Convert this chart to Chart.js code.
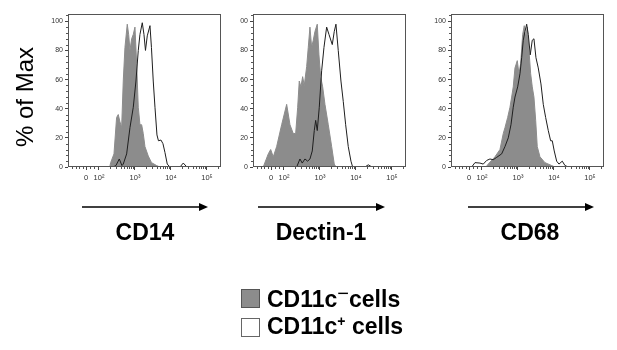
<!DOCTYPE html>
<html><head><meta charset="utf-8">
<script src="https://cdn.jsdelivr.net/npm/chart.js@4.4.1/dist/chart.umd.min.js"></script>
<style>
html,body{margin:0;padding:0;background:#fff;}
body{width:617px;height:350px;overflow:hidden;position:relative;font-family:"Liberation Sans",Arial,sans-serif;color:#000;}
canvas{position:absolute;top:0;}
.mk{position:absolute;width:200px;text-align:center;font-weight:bold;font-size:23px;line-height:23px;}
.ylab{position:absolute;left:-25px;top:85px;width:100px;height:24px;text-align:center;font-size:24px;line-height:24px;transform:rotate(-90deg);white-space:nowrap;}
.leg{position:absolute;left:241px;width:19px;height:19px;box-sizing:border-box;}
.legt{position:absolute;left:267px;font-weight:bold;font-size:23px;line-height:23px;white-space:nowrap;}
.sup{font-size:14px;position:relative;top:-8px;}
.supm{font-size:20px;position:relative;top:-7px;font-weight:normal;}
</style></head><body>
<canvas id="c1" width="200" height="189" style="left:28px"></canvas>
<canvas id="c2" width="200" height="189" style="left:213px"></canvas>
<canvas id="c3" width="200" height="189" style="left:411px"></canvas>
<div class="ylab">% of Max</div>
<svg width="617" height="350" style="position:absolute;left:0;top:0">
  <line x1="82" y1="207" x2="200" y2="207" stroke="#000" stroke-width="1.5"/>
  <polygon points="208,207 199,203 199,211" fill="#000"/>
  <line x1="258" y1="207" x2="377" y2="207" stroke="#000" stroke-width="1.5"/>
  <polygon points="385,207 376,203 376,211" fill="#000"/>
  <line x1="468" y1="207" x2="586" y2="207" stroke="#000" stroke-width="1.5"/>
  <polygon points="594,207 585,203 585,211" fill="#000"/>
</svg>
<div class="mk" id="m1" style="left:45px;top:221px"></div>
<div class="mk" id="m2" style="left:221px;top:221px"></div>
<div class="mk" id="m3" style="left:430px;top:221px"></div>
<div class="leg" style="top:289px;background:#8c8c8c;border:1px solid #555"></div>
<div class="leg" style="top:318px;background:#fff;border:1px solid #666"></div>
<div class="legt" style="top:288px">CD11c<span class="supm">−</span>cells</div>
<div class="legt" style="top:315px">CD11c<span class="sup">+</span> cells</div>
<script>
// marker names
const panelNames = ['CD14', 'Dectin-1', 'CD68'];
// x axis is in display (decade) units: 10^2 -> 2, 10^3 -> 3 ...
const xMin = 1.14, xMax = 5.39;
const yMin = 0, yMax = 105;
const xTickValues = [1.64, 2, 3, 4, 5];
const xTickLabels = ['0', '10²', '10³', '10⁴', '10⁵'];
const yTickValues = [0, 20, 40, 60, 80, 100];
const yTickLabels = ['0', '20', '40', '60', '80', '100'];
const yTickLabelsPanel2 = ['0', '20', '40', '60', '80', '00'];
const xMinorValues = [1.25, 1.35, 1.45, 1.55, 1.75, 1.85,
  2.301, 2.477, 2.602, 2.699, 2.778, 2.845, 2.903, 2.954,
  3.301, 3.477, 3.602, 3.699, 3.778, 3.845, 3.903, 3.954,
  4.301, 4.477, 4.602, 4.699, 4.778, 4.845, 4.903, 4.954, 5.301];
const yMinorValues = [4, 8, 12, 16, 24, 28, 32, 36, 44, 48, 52, 56, 64, 68, 72, 76, 84, 88, 92, 96, 104];

// CD14 panel
const cd14NegX = [1.14, 2.30, 2.325, 2.417, 2.49, 2.536, 2.583, 2.63, 2.675, 2.722, 2.786, 2.825, 2.861, 2.908, 2.953, 3.0, 3.047, 3.092, 3.139, 3.186, 3.23, 3.278, 3.37, 3.46, 3.6, 3.69, 5.39];
const cd14NegY = [0, 0, 3, 9, 34, 36, 31, 27, 59, 82, 98, 91, 80, 88, 91, 96, 71, 41, 29, 29, 23, 14, 7.5, 3, 1, 0, 0];
const cd14PosX = [1.14, 2.389, 2.472, 2.564, 2.639, 2.675, 2.769, 2.861, 2.953, 3.028, 3.092, 3.139, 3.203, 3.25, 3.292, 3.342, 3.417, 3.458, 3.508, 3.556, 3.611, 3.653, 3.722, 3.778, 3.833, 3.897, 3.972, 4.25, 4.342, 4.444, 5.39];
const cd14PosY = [0, 0, 1, 5.5, 1, 2, 9, 27, 41, 59, 80, 91, 99, 91, 80, 90, 97, 82, 59, 41, 22, 18, 18.5, 16, 10, 2, 0, 0, 2.7, 0, 0];

// Dectin-1 panel
const dectinNegX = [1.14, 1.425, 1.564, 1.631, 1.703, 1.797, 1.936, 2.075, 2.167, 2.258, 2.325, 2.381, 2.425, 2.472, 2.519, 2.564, 2.631, 2.675, 2.722, 2.769, 2.814, 2.861, 2.925, 2.972, 3.019, 3.075, 3.139, 3.231, 3.325, 3.397, 3.444, 5.39];
const dectinNegY = [0, 0, 9, 12, 7, 14, 29, 43, 29, 23, 23, 41, 59, 55, 62, 56, 69, 82, 96, 82, 87, 93, 98, 77, 62, 55, 43, 29, 14, 2, 0, 0];
const dectinPosX = [1.14, 2.353, 2.444, 2.508, 2.583, 2.658, 2.722, 2.786, 2.842, 2.881, 2.925, 2.981, 3.047, 3.111, 3.186, 3.25, 3.342, 3.397, 3.444, 3.508, 3.583, 3.647, 3.714, 3.786, 3.861, 3.908, 4.25, 4.342, 4.444, 5.39];
const dectinPosY = [0, 0, 5.5, 2.7, 5.5, 4, 5.5, 11, 25, 32, 25, 41, 66, 82, 96, 91, 84, 93, 98, 80, 59, 45, 29, 14, 4, 0, 0, 1.5, 0, 0];

// CD68 panel
const cd68NegX = [1.14, 2.111, 2.175, 2.361, 2.5, 2.592, 2.639, 2.714, 2.778, 2.825, 2.869, 2.917, 2.981, 3.028, 3.075, 3.131, 3.175, 3.214, 3.258, 3.306, 3.353, 3.397, 3.444, 3.492, 3.536, 3.611, 3.75, 3.936, 4.028, 5.39];
const cd68NegY = [0, 0, 2, 7, 12, 23, 27, 34, 41, 48, 55, 68, 73, 64, 71, 91, 97, 89, 96, 80, 64, 55, 48, 32, 14, 7, 3, 1, 0, 0];
const cd68PosX = [1.14, 1.714, 1.806, 1.944, 2.036, 2.131, 2.222, 2.314, 2.408, 2.547, 2.639, 2.731, 2.806, 2.869, 2.917, 2.992, 3.056, 3.103, 3.147, 3.194, 3.242, 3.286, 3.342, 3.397, 3.444, 3.5, 3.564, 3.639, 3.703, 3.769, 3.842, 3.908, 3.953, 4.008, 4.075, 4.139, 4.231, 4.306, 4.397, 5.39];
const cd68PosY = [0, 0, 3, 2.7, 2, 4.5, 5.5, 5, 6.6, 9, 14, 20, 29, 41, 48, 55, 64, 75, 87, 93, 98, 91, 77, 87, 88, 75, 68, 57, 43, 34, 25, 18, 18, 11, 4, 2, 4, 1, 0, 0];

const seriesNames = ['CD11c− cells', 'CD11c+ cells'];
const negColor = '#8c8c8c';
const posColor = '#1e1e1e';

function zip(xs, ys) { return xs.map((x, i) => ({ x: x, y: ys[i] })); }

const framePlugin = {
  id: 'frame',
  afterDraw(chart) {
    const { ctx, chartArea: a, scales: { x, y } } = chart;
    ctx.save();
    ctx.strokeStyle = '#555';
    ctx.lineWidth = 1;
    ctx.strokeRect(a.left + 0.5, a.top + 0.5, a.right - a.left - 1, a.bottom - a.top - 1);
    ctx.beginPath();
    xMinorValues.forEach(v => {
      const px = Math.round(x.getPixelForValue(v)) + 0.5;
      ctx.moveTo(px, a.bottom); ctx.lineTo(px, a.bottom + 2);
    });
    yMinorValues.forEach(v => {
      const py = Math.round(y.getPixelForValue(v)) + 0.5;
      ctx.moveTo(a.left, py); ctx.lineTo(a.left - 2, py);
    });
    ctx.stroke();
    ctx.restore();
  }
};

function makePanel(id, negX, negY, posX, posY, yLabels) {
  return new Chart(document.getElementById(id), {
    type: 'line',
    data: {
      datasets: [
        { label: seriesNames[0], data: zip(negX, negY), borderColor: negColor, backgroundColor: negColor,
          borderWidth: 1, fill: 'origin', pointRadius: 0, tension: 0, order: 2 },
        { label: seriesNames[1], data: zip(posX, posY), borderColor: posColor, backgroundColor: 'transparent',
          borderWidth: 1, fill: false, pointRadius: 0, tension: 0, order: 1 }
      ]
    },
    options: {
      responsive: false,
      animation: false,
      devicePixelRatio: 1,
      layout: { padding: { top: 14, right: 7, bottom: 0, left: 0 } },
      plugins: { legend: { display: false }, tooltip: { enabled: false } },
      scales: {
        x: {
          type: 'linear', min: xMin, max: xMax,
          afterBuildTicks: s => { s.ticks = xTickValues.map(v => ({ value: v })); },
          afterFit: s => { s.height = 22; },
          ticks: { callback: (v, i) => xTickLabels[i], autoSkip: false, maxRotation: 0, padding: 3,
                   color: '#333', font: { size: 7.5, family: 'Liberation Sans' } },
          grid: { display: true, drawOnChartArea: false, drawTicks: true, tickLength: 3, color: '#444' },
          border: { display: false }
        },
        y: {
          type: 'linear', min: yMin, max: yMax,
          afterBuildTicks: s => { s.ticks = yTickValues.map(v => ({ value: v })); },
          afterFit: s => { s.width = 40; },
          ticks: { callback: (v, i) => yLabels[i], autoSkip: false, padding: 2,
                   color: '#333', font: { size: 7, family: 'Liberation Sans' } },
          grid: { display: true, drawOnChartArea: false, drawTicks: true, tickLength: 3, color: '#444' },
          border: { display: false }
        }
      }
    },
    plugins: [framePlugin]
  });
}

makePanel('c1', cd14NegX, cd14NegY, cd14PosX, cd14PosY, yTickLabels);
makePanel('c2', dectinNegX, dectinNegY, dectinPosX, dectinPosY, yTickLabelsPanel2);
makePanel('c3', cd68NegX, cd68NegY, cd68PosX, cd68PosY, yTickLabels);
document.getElementById('m1').textContent = panelNames[0];
document.getElementById('m2').textContent = panelNames[1];
document.getElementById('m3').textContent = panelNames[2];
</script>
</body></html>
